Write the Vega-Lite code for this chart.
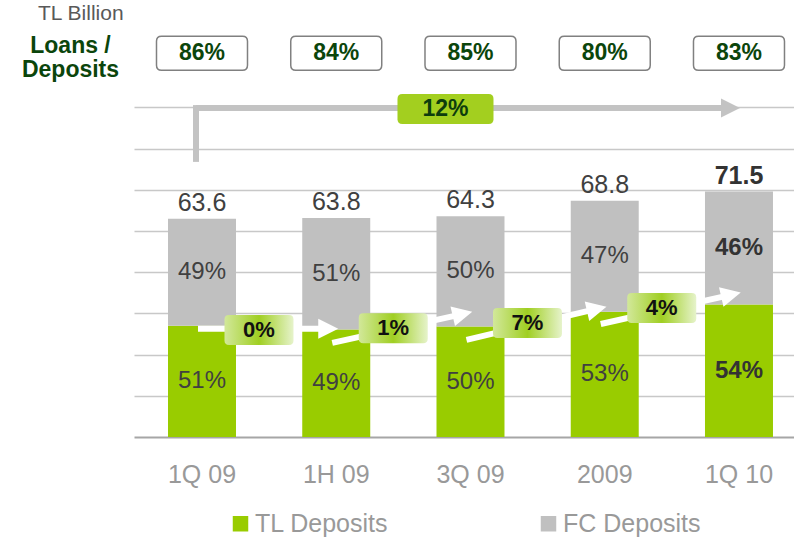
{
  "$schema": "https://vega.github.io/schema/vega-lite/v6.json",
  "width": 660,
  "height": 412,
  "autosize": {"type": "none"},
  "padding": {"left": 134, "top": 25, "right": 0, "bottom": 100},
  "background": "white",
  "config": {
    "view": {"stroke": null},
    "font": "Liberation Sans",
    "text": {"font": "Liberation Sans"}
  },
  "title": {
    "text": "TL Billion",
    "anchor": "start",
    "frame": "group",
    "dx": -96,
    "dy": 20,
    "offset": 4,
    "baseline": "alphabetic",
    "fontSize": 21,
    "fontWeight": "normal",
    "color": "#595959",
    "font": "Liberation Sans"
  },
  "datasets": {
    "deposits": [
      {"period": "1Q 09", "type": "TL Deposits", "value": 32.4, "share": 0.51},
      {"period": "1Q 09", "type": "FC Deposits", "value": 31.2, "share": 0.49},
      {"period": "1H 09", "type": "TL Deposits", "value": 31.3, "share": 0.49},
      {"period": "1H 09", "type": "FC Deposits", "value": 32.5, "share": 0.51},
      {"period": "3Q 09", "type": "TL Deposits", "value": 32.2, "share": 0.50},
      {"period": "3Q 09", "type": "FC Deposits", "value": 32.1, "share": 0.50},
      {"period": "2009", "type": "TL Deposits", "value": 36.5, "share": 0.53},
      {"period": "2009", "type": "FC Deposits", "value": 32.3, "share": 0.47},
      {"period": "1Q 10", "type": "TL Deposits", "value": 38.6, "share": 0.54},
      {"period": "1Q 10", "type": "FC Deposits", "value": 32.9, "share": 0.46}
    ],
    "periods": [
      {"period": "1Q 09", "total": 63.6, "ldr": 0.86},
      {"period": "1H 09", "total": 63.8, "ldr": 0.84},
      {"period": "3Q 09", "total": 64.3, "ldr": 0.85},
      {"period": "2009", "total": 68.8, "ldr": 0.80},
      {"period": "1Q 10", "total": 71.5, "ldr": 0.83}
    ],
    "growth": [
      {"from": "1Q 09", "to": "1H 09", "start": 31.5, "end": 31.5, "labelAt": 31.2, "growth": 0.0},
      {"from": "1H 09", "to": "3Q 09", "start": 27.4, "end": 35.8, "labelAt": 31.7, "growth": 0.01},
      {"from": "3Q 09", "to": "2009", "start": 28.3, "end": 37.3, "labelAt": 33.2, "growth": 0.07},
      {"from": "2009", "to": "1Q 10", "start": 32.9, "end": 41.4, "labelAt": 37.6, "growth": 0.04}
    ],
    "overall": [
      {"from": "1Q 09", "to": "1Q 10", "growth": 0.12}
    ]
  },
  "layer": [
    {
      "data": {"name": "deposits"},
      "transform": [
        {"stack": "value", "groupby": ["period"], "sort": [{"field": "type", "order": "descending"}], "as": ["v0", "v1"]}
      ],
      "mark": {"type": "bar"},
      "encoding": {
        "x": {
          "field": "period",
          "type": "nominal",
          "scale": {
            "domain": ["1Q 09", "1H 09", "3Q 09", "2009", "1Q 10"],
            "paddingInner": 0.4935,
            "paddingOuter": 0.2049,
            "align": 0.618
          },
          "axis": {
            "title": null,
            "labelAngle": 0,
            "domainColor": "#a6a6a6",
            "domainWidth": 2,
            "ticks": false,
            "grid": false,
            "labelFontSize": 25,
            "labelColor": "#999999",
            "labelFont": "Liberation Sans",
            "labelPadding": 45,
            "labelBaseline": "alphabetic"
          }
        },
        "y": {
          "field": "v0",
          "type": "quantitative",
          "scale": {"domain": [0, 120], "nice": false},
          "axis": {
            "title": ["Loans /", "Deposits"],
            "titleAngle": 0,
            "titleX": -64,
            "titleY": 27,
            "titleAlign": "center",
            "titleBaseline": "alphabetic",
            "titleFontSize": 23,
            "titleFontWeight": "bold",
            "titleColor": "#0b450b",
            "titleFont": "Liberation Sans",
            "titleLineHeight": 24,
            "labels": false,
            "ticks": false,
            "domain": false,
            "grid": true,
            "gridColor": "#c8c8c8",
            "gridWidth": 1.5,
            "values": [12, 24, 36, 48, 60, 72, 84, 96]
          }
        },
        "y2": {"field": "v1"},
        "color": {
          "field": "type",
          "type": "nominal",
          "scale": {"domain": ["TL Deposits", "FC Deposits"], "range": ["#99cc00", "#c0c0c0"]},
          "legend": {
            "orient": "none",
            "legendX": 94,
            "legendY": 486,
            "direction": "horizontal",
            "title": null,
            "symbolType": "square",
            "symbolSize": 240,
            "symbolStrokeWidth": 0,
            "labelFontSize": 25,
            "labelColor": "#999999",
            "labelFont": "Liberation Sans",
            "labelOffset": 2,
            "labelLimit": 300,
            "columnPadding": 147,
            "padding": 0
          }
        }
      }
    },
    {
      "data": {"name": "deposits"},
      "transform": [
        {"stack": "value", "groupby": ["period"], "sort": [{"field": "type", "order": "descending"}], "as": ["v0", "v1"]},
        {"fold": ["v0", "v1"], "as": ["edge", "pos"]},
        {"aggregate": [{"op": "mean", "field": "pos", "as": "mid"}], "groupby": ["period", "type", "share"]},
        {"filter": "datum.period !== '1Q 10'"}
      ],
      "mark": {"type": "text", "fontSize": 24, "color": "#404040", "baseline": "middle", "font": "Liberation Sans"},
      "encoding": {
        "x": {"field": "period", "type": "nominal"},
        "y": {"field": "mid", "type": "quantitative"},
        "text": {"field": "share", "type": "quantitative", "format": ".0%"}
      }
    },
    {
      "data": {"name": "deposits"},
      "transform": [
        {"stack": "value", "groupby": ["period"], "sort": [{"field": "type", "order": "descending"}], "as": ["v0", "v1"]},
        {"fold": ["v0", "v1"], "as": ["edge", "pos"]},
        {"aggregate": [{"op": "mean", "field": "pos", "as": "mid"}], "groupby": ["period", "type", "share"]},
        {"filter": "datum.period === '1Q 10'"}
      ],
      "mark": {"type": "text", "fontSize": 24, "fontWeight": "bold", "color": "#333333", "baseline": "middle", "font": "Liberation Sans"},
      "encoding": {
        "x": {"field": "period", "type": "nominal"},
        "y": {"field": "mid", "type": "quantitative"},
        "text": {"field": "share", "type": "quantitative", "format": ".0%"}
      }
    },
    {
      "data": {"name": "periods"},
      "transform": [{"filter": "datum.period !== '1Q 10'"}],
      "mark": {"type": "text", "fontSize": 25, "color": "#404040", "baseline": "alphabetic", "dy": -8, "font": "Liberation Sans"},
      "encoding": {
        "x": {"field": "period", "type": "nominal"},
        "y": {"field": "total", "type": "quantitative"},
        "text": {"field": "total", "type": "quantitative", "format": ".1f"}
      }
    },
    {
      "data": {"name": "periods"},
      "transform": [{"filter": "datum.period === '1Q 10'"}],
      "mark": {"type": "text", "fontSize": 25, "fontWeight": "bold", "color": "#333333", "baseline": "alphabetic", "dy": -8, "font": "Liberation Sans"},
      "encoding": {
        "x": {"field": "period", "type": "nominal"},
        "y": {"field": "total", "type": "quantitative"},
        "text": {"field": "total", "type": "quantitative", "format": ".1f"}
      }
    },
    {
      "data": {"name": "periods"},
      "mark": {
        "type": "point",
        "shape": "M-0.89,-0.3736 L0.89,-0.3736 Q1,-0.3736 1,-0.2636 L1,0.2636 Q1,0.3736 0.89,0.3736 L-0.89,0.3736 Q-1,0.3736 -1,0.2636 L-1,-0.2636 Q-1,-0.3736 -0.89,-0.3736 Z",
        "size": 8281,
        "filled": true,
        "fill": "white",
        "stroke": "#808080",
        "strokeWidth": 1.5,
        "opacity": 1
      },
      "encoding": {
        "x": {"field": "period", "type": "nominal"},
        "y": {"datum": 111.8, "type": "quantitative"}
      }
    },
    {
      "data": {"name": "periods"},
      "mark": {"type": "text", "fontSize": 23, "fontWeight": "bold", "color": "#0b450b", "baseline": "middle", "font": "Liberation Sans"},
      "encoding": {
        "x": {"field": "period", "type": "nominal"},
        "y": {"datum": 111.8, "type": "quantitative"},
        "text": {"field": "ldr", "type": "quantitative", "format": ".0%"}
      }
    },
    {
      "data": {"name": "overall"},
      "mark": {"type": "rule", "color": "#c3c3c3", "strokeWidth": 6, "strokeCap": "square", "xOffset": -6},
      "encoding": {
        "x": {"field": "from", "type": "nominal"},
        "y": {"datum": 81, "type": "quantitative"},
        "y2": {"datum": 95.8}
      }
    },
    {
      "data": {"name": "overall"},
      "mark": {"type": "rule", "color": "#c3c3c3", "strokeWidth": 6, "strokeCap": "butt", "xOffset": -6, "x2Offset": -18},
      "encoding": {
        "x": {"field": "from", "type": "nominal"},
        "x2": {"field": "to"},
        "y": {"datum": 95.8, "type": "quantitative"}
      }
    },
    {
      "data": {"name": "overall"},
      "mark": {"type": "point", "shape": "M-1,-1 L1,0 L-1,1 Z", "size": 361, "filled": true, "fill": "#c3c3c3", "strokeWidth": 0, "opacity": 1, "xOffset": -8.5},
      "encoding": {
        "x": {"field": "to", "type": "nominal"},
        "y": {"datum": 95.8, "type": "quantitative"}
      }
    },
    {
      "data": {"name": "overall"},
      "mark": {
        "type": "point",
        "shape": "M-0.9,-0.3125 L0.9,-0.3125 Q1,-0.3125 1,-0.2125 L1,0.2125 Q1,0.3125 0.9,0.3125 L-0.9,0.3125 Q-1,0.3125 -1,0.2125 L-1,-0.2125 Q-1,-0.3125 -0.9,-0.3125 Z",
        "size": 9216,
        "filled": true,
        "fill": "#a3cf1f",
        "strokeWidth": 0,
        "opacity": 1,
        "xOffset": -25
      },
      "encoding": {
        "x": {"datum": "3Q 09", "type": "nominal"},
        "y": {"datum": 95.5, "type": "quantitative"}
      }
    },
    {
      "data": {"name": "overall"},
      "mark": {"type": "text", "fontSize": 23, "fontWeight": "bold", "color": "#0d3d0d", "baseline": "middle", "font": "Liberation Sans", "xOffset": -25},
      "encoding": {
        "x": {"datum": "3Q 09", "type": "nominal"},
        "y": {"datum": 95.5, "type": "quantitative"},
        "text": {"field": "growth", "type": "quantitative", "format": ".0%"}
      }
    },
    {
      "data": {"name": "growth"},
      "mark": {"type": "rule", "color": "white", "strokeWidth": 6, "strokeCap": "butt", "xOffset": -4, "x2Offset": -8},
      "encoding": {
        "x": {"field": "from", "type": "nominal"},
        "x2": {"field": "to"},
        "y": {"field": "start", "type": "quantitative"},
        "y2": {"field": "end"}
      }
    },
    {
      "data": {"name": "growth"},
      "transform": [{"filter": "datum.growth === 0"}],
      "mark": {"type": "point", "shape": "M-1,-1 L1,0 L-1,1 Z", "size": 400, "filled": true, "fill": "white", "strokeWidth": 0, "opacity": 1, "xOffset": -8},
      "encoding": {
        "x": {"field": "to", "type": "nominal"},
        "y": {"field": "end", "type": "quantitative"}
      }
    },
    {
      "data": {"name": "growth"},
      "transform": [{"filter": "datum.growth !== 0"}],
      "mark": {"type": "point", "shape": "M-1,-1 L1,0 L-1,1 Z", "size": 400, "filled": true, "fill": "white", "strokeWidth": 0, "opacity": 1, "angle": 347, "xOffset": -8},
      "encoding": {
        "x": {"field": "to", "type": "nominal"},
        "y": {"field": "end", "type": "quantitative"}
      }
    },
    {
      "data": {"name": "growth"},
      "mark": {
        "type": "point",
        "shape": "M-0.87,-0.4348 L0.87,-0.4348 Q1,-0.4348 1,-0.3048 L1,0.3048 Q1,0.4348 0.87,0.4348 L-0.87,0.4348 Q-1,0.4348 -1,0.3048 L-1,-0.3048 Q-1,-0.4348 -0.87,-0.4348 Z",
        "size": 4761,
        "filled": true,
        "fill": {
          "gradient": "linear",
          "x1": 0, "y1": 0, "x2": 1, "y2": 0,
          "stops": [
            {"offset": 0, "color": "#d2e89a"},
            {"offset": 0.5, "color": "#a0cf22"},
            {"offset": 1, "color": "#e6f3cb"}
          ]
        },
        "strokeWidth": 0,
        "opacity": 1,
        "xOffset": 57
      },
      "encoding": {
        "x": {"field": "from", "type": "nominal"},
        "y": {"field": "labelAt", "type": "quantitative"}
      }
    },
    {
      "data": {"name": "growth"},
      "mark": {"type": "text", "fontSize": 22, "fontWeight": "bold", "color": "#111111", "baseline": "middle", "font": "Liberation Sans", "xOffset": 57},
      "encoding": {
        "x": {"field": "from", "type": "nominal"},
        "y": {"field": "labelAt", "type": "quantitative"},
        "text": {"field": "growth", "type": "quantitative", "format": ".0%"}
      }
    }
  ]
}
